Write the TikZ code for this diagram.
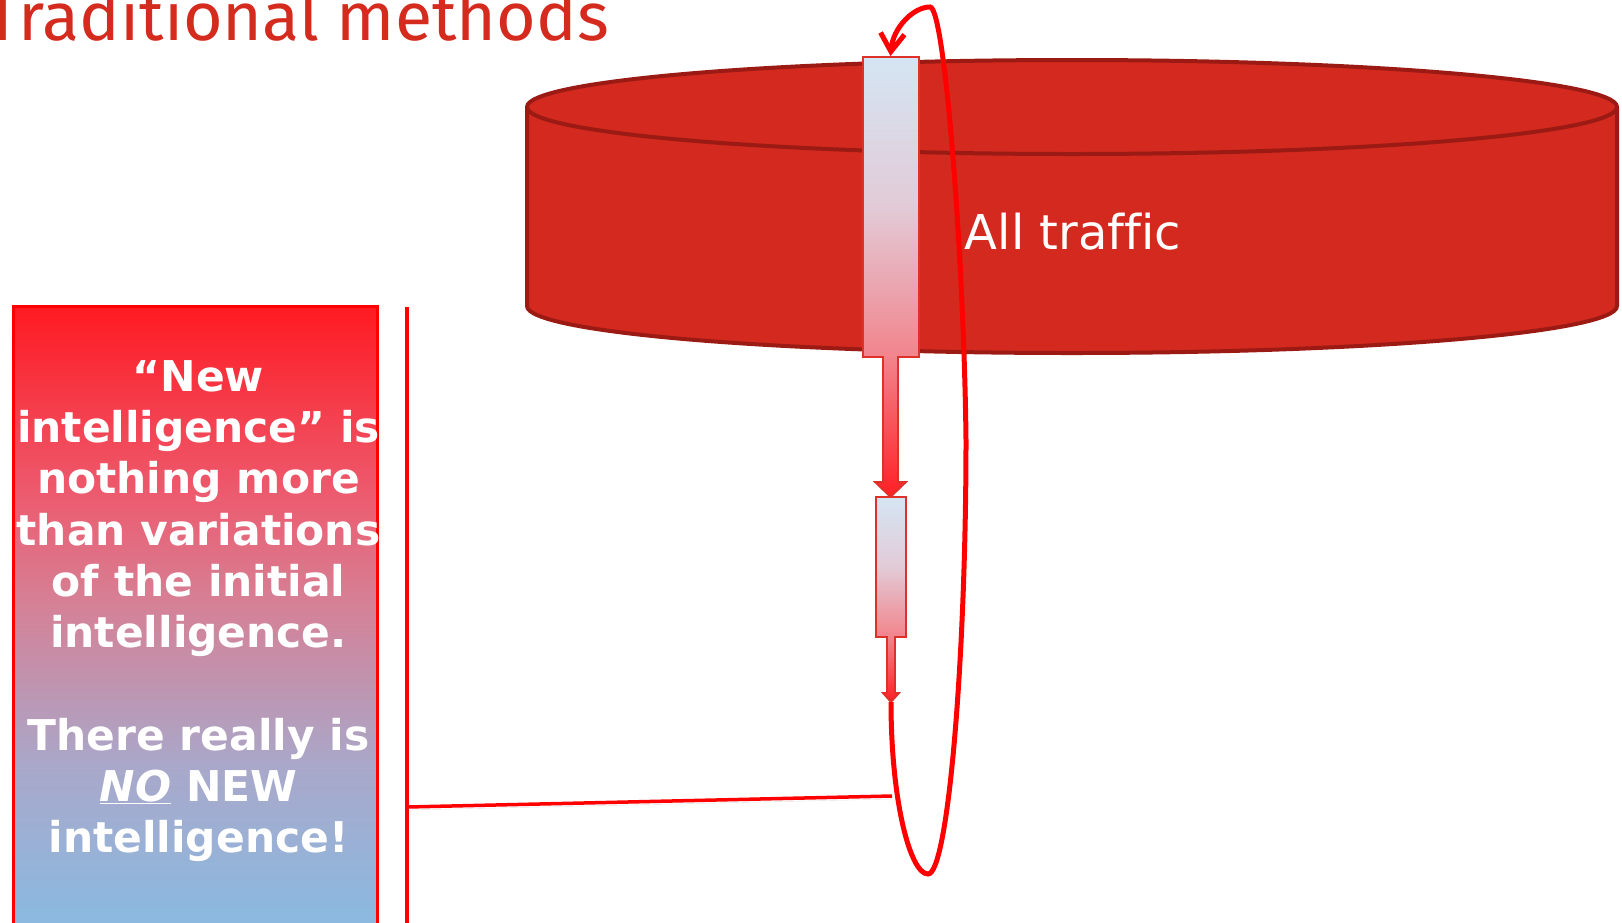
\documentclass[tikz,border=0pt]{standalone}
\usepackage{fontspec}
\setmainfont{DejaVu Sans}
\newfontfamily\titlefont{Fira Sans}
\newfontfamily\labelfont[Ligatures=NoCommon]{DejaVu Sans}
\usetikzlibrary{arrows.meta}

\definecolor{titlered}{HTML}{D52B1E}
\definecolor{cylfill}{HTML}{D4291F}
\definecolor{cylborder}{HTML}{9B1B14}
\definecolor{loopred}{HTML}{FF0000}
\definecolor{calloutedge}{HTML}{DE3129}
\definecolor{callblue}{HTML}{D5E5F3}
\definecolor{callmauve}{HTML}{E2CBD7}
\definecolor{callpink}{HTML}{F2848C}
\definecolor{callred}{HTML}{FF1F24}
\definecolor{boxtop}{HTML}{FF1A22}
\definecolor{boxpink}{HTML}{EC5C70}
\definecolor{boxrose}{HTML}{D68095}
\definecolor{boxlilac}{HTML}{A9A8CA}
\definecolor{boxblue}{HTML}{86BCE4}

% blue-to-red fill shared by both down-arrow callouts (25bp = bottom, 75bp = top)
\pgfdeclareverticalshading{calloutgrad}{100bp}{color(0bp)=(callred); color(25bp)=(callred);
  color(41bp)=(callpink); color(58bp)=(callmauve); color(75bp)=(callblue); color(100bp)=(callblue)}
% red-to-blue fill of the text panel
\pgfdeclareverticalshading{panelgrad}{100bp}{color(0bp)=(boxblue); color(25bp)=(boxblue);
  color(39bp)=(boxlilac); color(52bp)=(boxrose); color(60bp)=(boxpink); color(75bp)=(boxtop); color(100bp)=(boxtop)}

\begin{document}
\begin{tikzpicture}[x=1pt,y=-1pt,
  softshadow/.style={preaction={draw=black, draw opacity=0.12, transform canvas={shift={(1,3)}}}},
  loopline/.style={draw=loopred, line width=5pt},
  redline/.style={draw=loopred, line width=4pt, softshadow},
  cylline/.style={draw=cylborder, line width=4pt, line join=round},
  callout/.style={draw=calloutedge, line width=1.8pt, shade, shading=calloutgrad},
]
\useasboundingbox (0,0) rectangle (1622,922);
\clip (0,0) rectangle (1622,922);

% heading
\node[anchor=base east, text=titlered, inner sep=0,
      font=\titlefont\fontsize{68}{82}\selectfont] (title) at (609,40) {Traditional methods};

% cylinder: body, then top face
\fill[cylfill] (527,107) -- (527,306) .. controls (527,332) and (771,353) .. (1072,353)
  .. controls (1373,353) and (1617,332) .. (1617,306) -- (1617,107) -- cycle;
\draw[cylline] (527,107) -- (527,306) .. controls (527,332) and (771,353) .. (1072,353)
  .. controls (1373,353) and (1617,332) .. (1617,306) -- (1617,107);
\draw[cylline, fill=cylfill] (1072,107) ellipse [x radius=545, y radius=47];
\node[text=white, anchor=base, inner sep=0, font=\labelfont\fontsize{48}{58}\selectfont]
  (traffic) at (1073,249) {All traffic};

% down-arrow callouts
\path[callout] (863,57) -- (919,57) -- (919,357) -- (898,357) -- (898,482) -- (906,482)
  -- (890.5,497) -- (875,482) -- (883,482) -- (883,357) -- (863,357) -- cycle;
\path[callout] (876,497) -- (906,497) -- (906,637) -- (895,637) -- (895,693) -- (899,693)
  -- (891,702) -- (883,693) -- (887,693) -- (887,637) -- (876,637) -- cycle;
\coordinate (bigtop) at (890.5,56);
\coordinate (smalltip) at (891,702);

% feedback loop back to the top of the big callout
\draw[loopline, -{Straight Barb[length=18pt,width=24pt]}]
  (smalltip) .. controls (891,800) and (910,874) .. (928,874)
  .. controls (948,874) and (966,660) .. (966,440)
  .. controls (964,260) and (945,7) .. (930,7)
  .. controls (913,7) and (893,28) .. (bigtop);

% text panel
\node[draw=loopred, line width=2.5pt, shade, shading=panelgrad, anchor=north west,
      minimum width=364pt, minimum height=640pt, inner sep=0] (panel) at (12,305) {};
\node[anchor=north, text=white, align=center, inner sep=0,
      font=\bfseries\fontsize{42.4}{51.3}\selectfont] (paneltext) at (198.5,360)
  {“New\\intelligence” is\\nothing more\\than variations\\of the initial\\intelligence.\\[51.3pt]%
   There really is\\\underline{\textit{NO}} NEW\\intelligence!};

% bracket lines joining the panel to the loop
\coordinate (vtop) at (407,307);
\coordinate (vbot) at (407,930);
\coordinate (hleft) at (407,807);
\coordinate (hright) at (892,796);
\draw[redline] (vtop) -- (vbot);
\draw[redline, line width=3.5pt] (hleft) -- (hright);
\end{tikzpicture}
\end{document}
